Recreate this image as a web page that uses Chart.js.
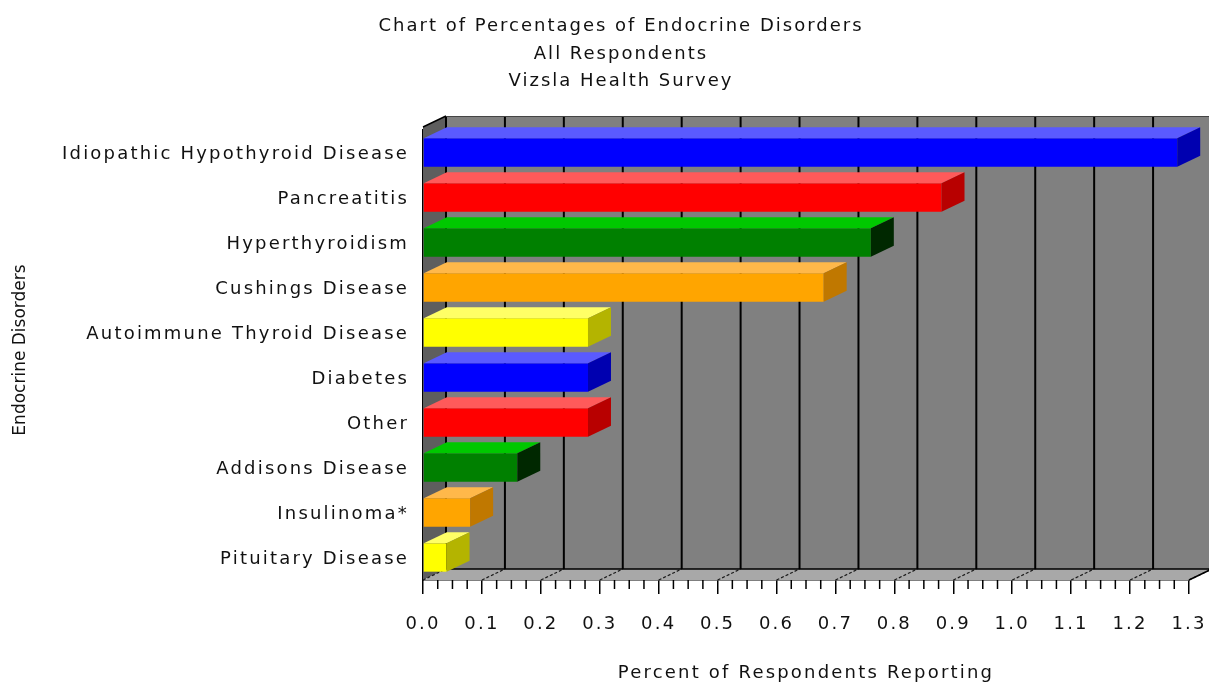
<!DOCTYPE html>
<html lang="en">
<head>
    <meta charset="UTF-8">
    <title>Chart of Percentages of Endocrine Disorders</title>
    <script src="https://cdn.jsdelivr.net/npm/chart.js"></script>
    <style>
        html, body { margin: 0; padding: 0; background: #fff; }
        #wrap { width: 1209px; height: 685px; }
    </style>
</head>
<body>
<div id="wrap"><canvas id="endo-chart" width="1209" height="685"></canvas></div>

<script>
    // Data
    const disorders = ['Idiopathic Hypothyroid Disease', 'Pancreatitis', 'Hyperthyroidism', 'Cushings Disease',
        'Autoimmune Thyroid Disease', 'Diabetes', 'Other', 'Addisons Disease', 'Insulinoma*', 'Pituitary Disease'];
    const percentReporting = [1.28, 0.88, 0.76, 0.68, 0.28, 0.28, 0.28, 0.16, 0.08, 0.04];
    const titleLines = ['Chart of Percentages of Endocrine Disorders', 'All Respondents', 'Vizsla Health Survey'];
    const xMin = 0, xMax = 1.3, xStep = 0.1;

    // Palette: front, top and side faces of the 3D bars
    const frontColors = ['#0000ff', '#ff0000', '#008000', '#ffa500', '#ffff00'];
    const topColors   = ['#5a5aff', '#ff5a5a', '#00c800', '#ffb84a', '#ffff66'];
    const sideColors  = ['#0000b0', '#b80000', '#002800', '#c07800', '#b4b400'];
    const pick = (pal) => disorders.map((_, i) => pal[i % pal.length]);

    const depthX = 23, depthY = -11;
    const textFont = '"DejaVu Sans", Verdana, sans-serif';

    // Draws the walls, floor and the extra faces of each bar
    const box3d = {
        id: 'box3d',
        beforeLayout(chart) { chart.ctx.letterSpacing = '2.2px'; },
        beforeDraw(chart) { chart.ctx.letterSpacing = '2.2px'; },
        beforeDatasetsDraw(chart) {
            const { ctx, chartArea: a, scales: { x } } = chart;
            const backTop = a.top + depthY - 3;
            const backBottom = a.bottom + depthY;
            ctx.save();
            // back wall
            ctx.fillStyle = '#808080';
            ctx.fillRect(a.left + depthX, backTop, a.right - a.left + 40, backBottom - backTop);
            // left wall
            ctx.fillStyle = '#5e5e5e';
            ctx.beginPath();
            ctx.moveTo(a.left, backTop - depthY);
            ctx.lineTo(a.left + depthX, backTop);
            ctx.lineTo(a.left + depthX, backBottom);
            ctx.lineTo(a.left, a.bottom);
            ctx.closePath();
            ctx.fill();
            // floor
            ctx.fillStyle = '#a8a8a8';
            ctx.beginPath();
            ctx.moveTo(a.left, a.bottom);
            ctx.lineTo(a.right, a.bottom);
            ctx.lineTo(a.right + depthX, backBottom);
            ctx.lineTo(a.left + depthX, backBottom);
            ctx.closePath();
            ctx.fill();

            // grid lines on the back wall + dashed lines across the floor
            x.ticks.forEach(t => {
                const px = x.getPixelForValue(t.value);
                ctx.strokeStyle = '#000';
                ctx.lineWidth = 2;
                ctx.setLineDash([]);
                ctx.beginPath();
                ctx.moveTo(px + depthX, backTop);
                ctx.lineTo(px + depthX, backBottom);
                ctx.stroke();
                ctx.lineWidth = 1.2;
                ctx.setLineDash([3, 2]);
                ctx.strokeStyle = '#1a1a1a';
                ctx.beginPath();
                ctx.moveTo(px, a.bottom);
                ctx.lineTo(px + depthX, backBottom);
                ctx.stroke();
            });
            ctx.setLineDash([]);

            // edges
            ctx.strokeStyle = '#000';
            ctx.lineWidth = 1.5;
            ctx.beginPath();
            ctx.moveTo(a.left + depthX, backBottom);
            ctx.lineTo(a.right + depthX + 40, backBottom);
            ctx.moveTo(a.left, backTop - depthY);
            ctx.lineTo(a.left + depthX, backTop);
            ctx.moveTo(a.right, a.bottom);
            ctx.lineTo(a.right + depthX, backBottom);
            ctx.stroke();
            ctx.strokeStyle = '#444';
            ctx.lineWidth = 1;
            ctx.beginPath();
            ctx.moveTo(a.left + depthX, backTop + 0.5);
            ctx.lineTo(a.right + depthX + 40, backTop + 0.5);
            ctx.stroke();

            // minor ticks below the front axis
            ctx.strokeStyle = '#000';
            ctx.lineWidth = 1.5;
            ctx.beginPath();
            for (let i = 0; i <= 52; i++) {
                if (i % 4 === 0) continue;
                const px = x.getPixelForValue(i * 0.025);
                ctx.moveTo(px, a.bottom);
                ctx.lineTo(px, a.bottom + 9);
            }
            ctx.stroke();
            ctx.restore();
        },
        afterDatasetsDraw(chart) {
            const { ctx } = chart;
            const meta = chart.getDatasetMeta(0);
            const tops = pick(topColors), sides = pick(sideColors);
            ctx.save();
            meta.data.forEach((bar, i) => {
                const { x: xEnd, y, base, height } = bar.getProps(['x', 'y', 'base', 'height'], true);
                const top = y - height / 2, bottom = y + height / 2;
                ctx.fillStyle = tops[i];
                ctx.beginPath();
                ctx.moveTo(base, top);
                ctx.lineTo(base + depthX, top + depthY);
                ctx.lineTo(xEnd + depthX, top + depthY);
                ctx.lineTo(xEnd, top);
                ctx.closePath();
                ctx.fill();
                ctx.fillStyle = sides[i];
                ctx.beginPath();
                ctx.moveTo(xEnd, top);
                ctx.lineTo(xEnd + depthX, top + depthY);
                ctx.lineTo(xEnd + depthX, bottom + depthY);
                ctx.lineTo(xEnd, bottom);
                ctx.closePath();
                ctx.fill();
            });
            ctx.restore();
        },
        afterDraw(chart) {
            const { ctx, chartArea: a } = chart;
            ctx.save();
            ctx.fillStyle = '#111';
            ctx.font = '18px ' + textFont;
            ctx.letterSpacing = '2px';
            ctx.textAlign = 'center';
            ctx.textBaseline = 'alphabetic';
            titleLines.forEach((line, i) => ctx.fillText(line, 621, 31 + i * 27.5));
            // y axis title
            ctx.letterSpacing = '0px';
            ctx.font = '17px ' + textFont;
            ctx.translate(21, (a.top + a.bottom) / 2 - 5);
            ctx.rotate(-Math.PI / 2);
            ctx.textBaseline = 'middle';
            ctx.fillText('Endocrine Disorders', 0, 0);
            ctx.restore();
        }
    };

    const ctx = document.getElementById('endo-chart').getContext('2d');
    const endoChart = new Chart(ctx, {
        type: 'bar',
        data: {
            labels: disorders,
            datasets: [{
                label: 'Percent of Respondents Reporting',
                data: percentReporting,
                backgroundColor: pick(frontColors),
                borderWidth: 0,
                categoryPercentage: 1,
                barPercentage: 0.63
            }]
        },
        options: {
            indexAxis: 'y',
            responsive: false,
            animation: false,
            layout: { padding: { top: 130, right: 20, left: 0, bottom: 0 } },
            plugins: {
                legend: { display: false },
                title: { display: false },
                tooltip: { enabled: false }
            },
            scales: {
                x: {
                    min: xMin,
                    max: xMax,
                    afterFit: (s) => { s.height = 105; s.paddingRight = 0; s.paddingLeft = 0; },
                    ticks: {
                        stepSize: xStep,
                        padding: 20,
                        color: '#111',
                        font: { family: textFont, size: 18 },
                        maxRotation: 0,
                        callback: (v) => Number(v).toFixed(1)
                    },
                    grid: { drawOnChartArea: false, drawTicks: true, tickLength: 14, color: '#000', lineWidth: 1.5 },
                    border: { display: true, color: '#000', width: 1.5 },
                    title: {
                        display: true,
                        text: 'Percent of Respondents Reporting',
                        color: '#111',
                        font: { family: textFont, size: 18 },
                        padding: { top: 0, bottom: 1 }
                    }
                },
                y: {
                    afterFit: (s) => { s.width = 423; },
                    ticks: {
                        padding: 14,
                        labelOffset: 2,
                        color: '#111',
                        font: { family: textFont, size: 18 }
                    },
                    grid: { display: false, drawTicks: false },
                    border: { display: true, color: '#000', width: 1.5 }
                }
            }
        },
        plugins: [box3d]
    });
</script>
</body>
</html>
